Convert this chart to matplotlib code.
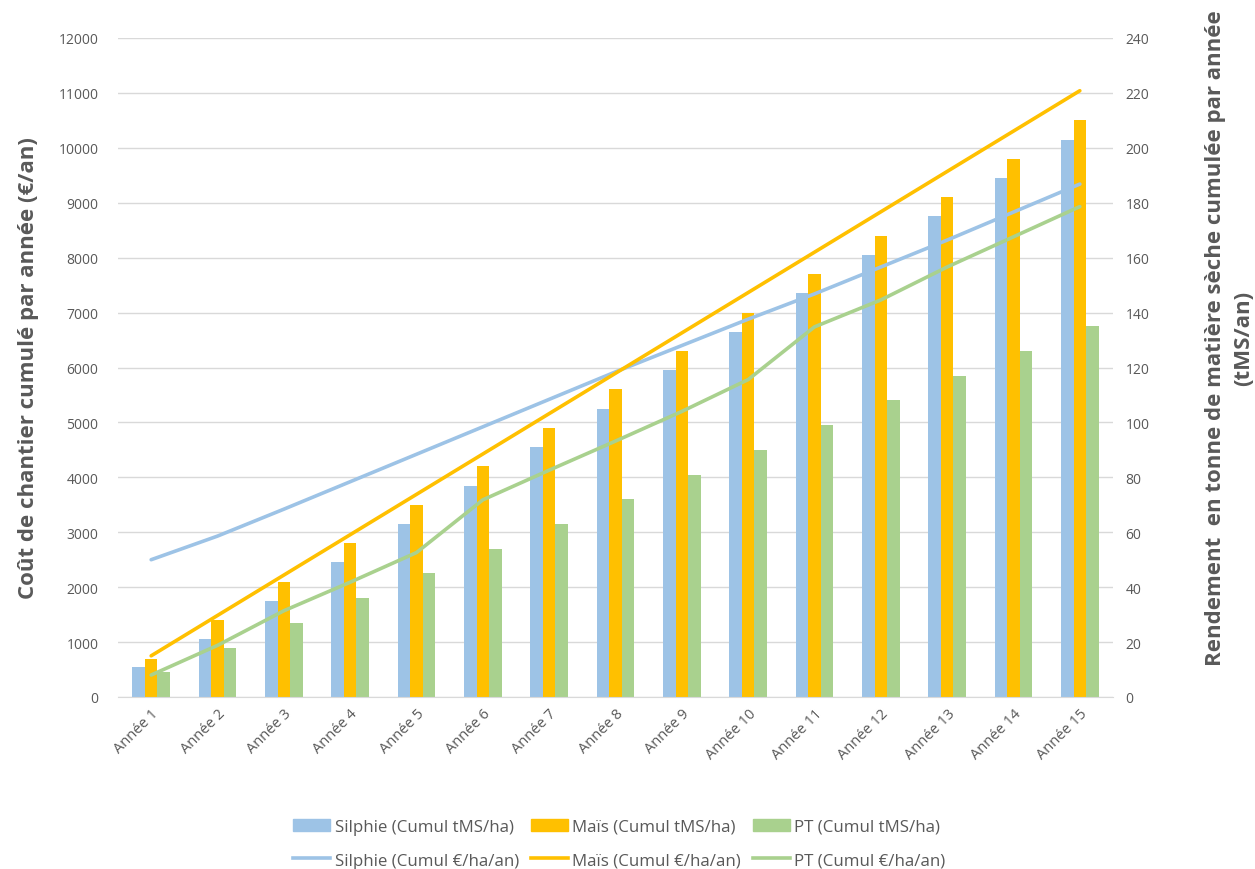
import matplotlib
matplotlib.use("Agg")
import matplotlib.pyplot as plt
import numpy as np
from matplotlib.lines import Line2D
from matplotlib.patches import Patch

plt.rcParams['font.family'] = ['Open Sans', 'DejaVu Sans']

categories = [f"Année {i}" for i in range(1, 16)]

# Bars: cumulative yield (tMS/ha) - right axis
silphie_tms = [11, 21, 35, 49, 63, 77, 91, 105, 119, 133, 147, 161, 175, 189, 203]
mais_tms = [14, 28, 42, 56, 70, 84, 98, 112, 126, 140, 154, 168, 182, 196, 210]
pt_tms = [9, 18, 27, 36, 45, 54, 63, 72, 81, 90, 99, 108, 117, 126, 135]

# Lines: cumulative cost (€/ha/an) - left axis
silphie_eur = [2500, 2930, 3420, 3920, 4420, 4920, 5420, 5920, 6400, 6880, 7340, 7830, 8320, 8830, 9340]
mais_eur = [750, 1485, 2220, 2955, 3690, 4425, 5160, 5895, 6630, 7365, 8100, 8835, 9570, 10305, 11040]
pt_eur = [400, 940, 1570, 2090, 2630, 3590, 4130, 4660, 5200, 5780, 6740, 7230, 7830, 8380, 8930]

c_sil = "#9DC3E6"
c_mais = "#FFC000"
c_pt = "#A9D18E"
txt = "#595959"
grid_c = "#D9D9D9"

fig = plt.figure(figsize=(12.55, 8.7), dpi=100)
ax = fig.add_axes([118/1255, 1-698/870, (1113-118)/1255, (698-39)/870])
ax2 = ax.twinx()
ax.set_zorder(ax2.get_zorder() + 1)
ax.patch.set_visible(False)

x = np.arange(len(categories))
w = 0.19
ax2.bar(x - w, silphie_tms, w, color=c_sil, zorder=2)
ax2.bar(x, mais_tms, w, color=c_mais, zorder=2)
ax2.bar(x + w, pt_tms, w, color=c_pt, zorder=2)

ax.plot(x, silphie_eur, color=c_sil, lw=2.6, solid_capstyle='round')
ax.plot(x, mais_eur, color=c_mais, lw=2.6, solid_capstyle='round')
ax.plot(x, pt_eur, color=c_pt, lw=2.6, solid_capstyle='round')

ax.set_xlim(-0.5, len(categories) - 0.5)
ax.set_ylim(0, 12000)
ax2.set_ylim(0, 240)
ax.set_yticks(np.arange(0, 12001, 1000))
ax2.set_yticks(np.arange(0, 241, 20))
ax2.grid(axis='y', color=grid_c, lw=1, zorder=0)
ax2.set_axisbelow(True)

for a in (ax, ax2):
    for s in a.spines.values():
        s.set_visible(False)
    a.tick_params(length=0, colors=txt, labelsize=10)
ax2.spines['bottom'].set_visible(True)
ax2.spines['bottom'].set_color(grid_c)

ax.tick_params(axis='y', pad=14)
ax2.tick_params(axis='y', pad=9)
ax.set_xticks(x)
ax.set_xticklabels(categories, rotation=45, ha='right', rotation_mode='anchor', fontsize=10.5)
ax.tick_params(axis='x', pad=6)

ax.set_ylabel("Coût de chantier cumulé par année (€/an)", fontsize=16, fontweight='bold',
              color=txt)
ax.yaxis.set_label_coords(-0.079, 0.5)
ax2.set_ylabel("Rendement  en tonne de matière sèche cumulée par année\n(tMS/an)",
               fontsize=16, fontweight='bold', color=txt, rotation=90,
               linespacing=1.45)
ax2.yaxis.set_label_coords(1.092, 0.546)

handles = [Patch(color=c_sil), Line2D([], [], color=c_sil, lw=2.6),
           Patch(color=c_mais), Line2D([], [], color=c_mais, lw=2.6),
           Patch(color=c_pt), Line2D([], [], color=c_pt, lw=2.6)]
labels = ["Silphie (Cumul tMS/ha)", "Silphie (Cumul €/ha/an)",
          "Maïs (Cumul tMS/ha)", "Maïs (Cumul €/ha/an)",
          "PT (Cumul tMS/ha)", "PT (Cumul €/ha/an)"]
fig.legend(handles, labels, ncol=3, loc='lower center', bbox_to_anchor=(0.4936, -0.017),
           frameon=False, fontsize=12.2, labelcolor=txt, handlelength=2.2,
           handleheight=0.75, columnspacing=0.7, handletextpad=0.25, labelspacing=1.05)

fig.savefig("out.png", dpi=100)
